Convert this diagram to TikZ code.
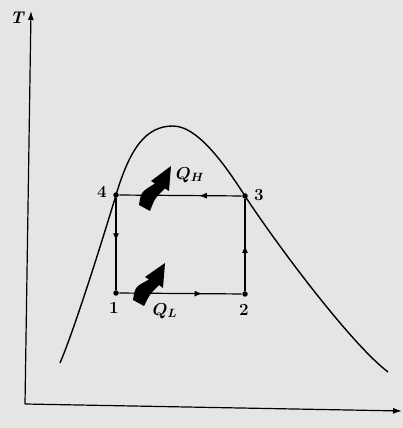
\documentclass[tikz,border=0pt]{standalone}
\usepackage{bm}
\usetikzlibrary{arrows.meta,decorations.markings}
\begin{document}
\begin{tikzpicture}[x=1pt,y=1pt,line width=1.2pt,
  dot/.style={circle,fill=black,inner sep=0pt,minimum size=5.5pt},
  num/.style={font=\bfseries\fontsize{17}{20}\selectfont,inner sep=0pt},
  qlab/.style={font=\fontsize{17}{20}\selectfont,inner sep=0pt},
  axis/.style={-{Latex[length=9pt,width=6pt]}},
  midarr/.style={postaction={decorate},decoration={markings,mark=at position #1 with {\arrow{Latex[length=8pt,width=6pt]}}}},
  heat/.style={fill=black}]
\fill[black!10] (0,0) rectangle (403,428);
\useasboundingbox (0,0) rectangle (403,428);
% axes
\coordinate (O) at (25,24);
\coordinate (ytop) at (31,417);
\coordinate (xend) at (402,17);
\draw[axis] (O) -- (ytop);
\draw[axis] (O) -- (xend);
\node[font=\bfseries\itshape\fontsize{17}{20}\selectfont,inner sep=0pt] (T) at (17,410) {T};
% saturation dome
\draw[line width=1.4pt] (60,65) .. controls (75,100) and (104,193) .. (116,233)
  .. controls (130,280) and (146,302) .. (173,302)
  .. controls (200,302) and (230,255) .. (245,232)
  .. controls (275,186) and (350,85) .. (388,56);
% cycle points
\node[dot] (p1) at (116,135) {};
\node[dot] (p2) at (245,134) {};
\node[dot] (p3) at (245,232) {};
\node[dot] (p4) at (116,233) {};
\draw[midarr=0.68] (p1) -- (p2);
\draw[midarr=0.5] (p2) -- (p3);
\draw[midarr=0.35] (p3) -- (p4);
\draw[midarr=0.47] (p4) -- (p1);
\node[num] (l1) at (114,120) {1};
\node[num] (l2) at (244,118) {2};
\node[num] (l3) at (259,233) {3};
\node[num] (l4) at (102,236) {4};
% heat arrows
\fill[heat] (139,223) .. controls (141,236) .. (155,244.5) -- (151,247) -- (171,262) -- (169,237) -- (165,239.5) .. controls (155,230) .. (150,217) -- cycle;
\fill[heat] (133,128) .. controls (135,141) .. (149,148.5) -- (145,151) -- (165,165) -- (163,140) -- (159,143) .. controls (150,134) .. (144,122) -- cycle;
\node[qlab] (qh) at (190,253) {$\bm{Q}_{\bm{H}}$};
\node[qlab] (qc) at (165,117) {$\bm{Q}_{\bm{L}}$};
\end{tikzpicture}
\end{document}
